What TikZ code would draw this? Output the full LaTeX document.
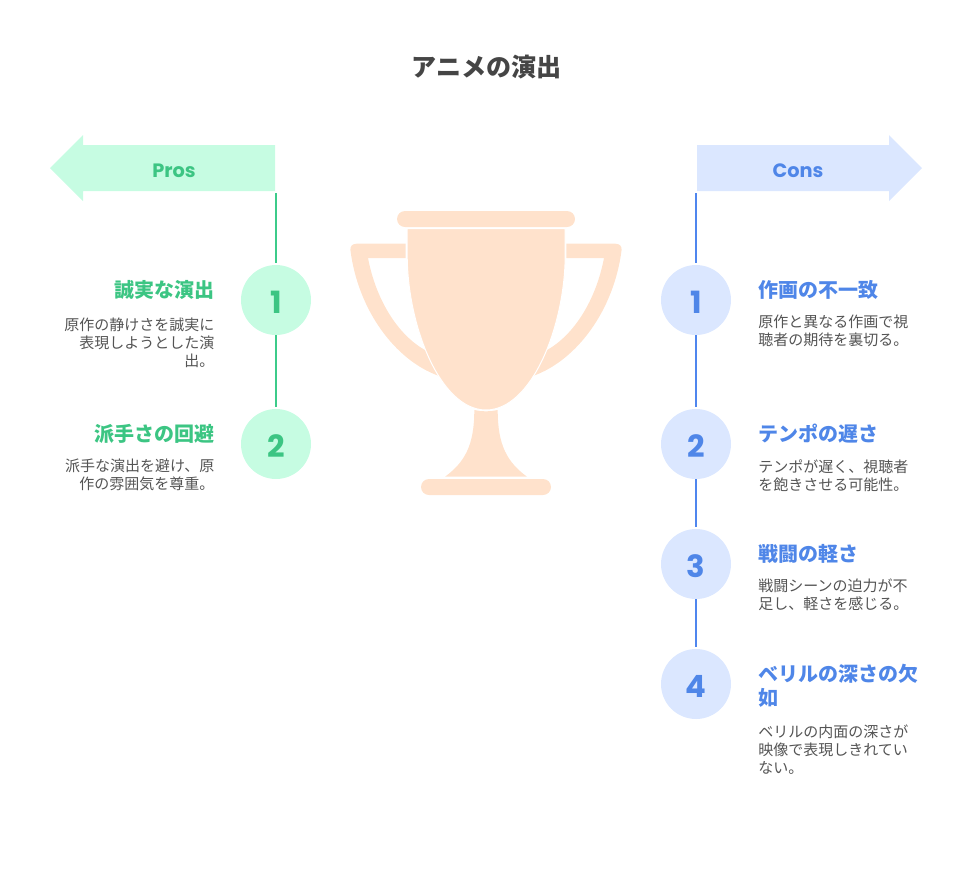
\documentclass[tikz,border=0pt]{standalone}
\usepackage{fontspec}
\setmainfont{Noto Sans CJK JP}
\newfontfamily\handfont{Poppins}
\definecolor{prosfill}{HTML}{C6FCE2}
\definecolor{prosline}{HTML}{3CCB8A}
\definecolor{prostext}{HTML}{3CC583}
\definecolor{consfill}{HTML}{DBE7FF}
\definecolor{consline}{HTML}{4F86EE}
\definecolor{constext}{HTML}{4F86E8}
\definecolor{cupfill}{HTML}{FFE2CC}
\tikzset{
	titlenode/.style={font=\fontsize{18.8}{22}\selectfont\bfseries,text=black!73},
	banner/.style={font=\handfont\fontsize{14.5}{17}\selectfont\bfseries},
	numcircle/.style={circle,minimum size=52.5pt,inner sep=0pt,font=\handfont\fontsize{23}{26}\selectfont\bfseries},
	head/.style={font=\fontsize{15}{18}\selectfont\bfseries,inner sep=0pt},
	desc/.style={font=\fontsize{11.25}{13.5}\selectfont,text=black!67,inner sep=0pt},
	proshead/.style={head,anchor=east,align=right,text=prostext},
	prosdesc/.style={desc,anchor=north east,align=right},
	conshead/.style={head,anchor=west,align=left,text=constext},
	consdesc/.style={desc,anchor=north west,align=left},
	handle/.pic={
		\fill[cupfill] (-80.3,-56.3)--(-129.3,-56.3)
		..controls (-133.5,-56.3) and (-136,-54) ..(-135.6,-50)
		..controls (-128,10) and (-91,60) ..(-47.7,75.7)
		--(-40,60)--(-61,50)
		..controls (-88,35) and (-110,0) ..(-118,-42)
		--(-80.3,-42)--cycle;
	}
}
\begin{document}
\begin{tikzpicture}[x=.75pt,y=-.75pt]
	\useasboundingbox (0,0) rectangle (972,876);
	\node[titlenode] (title) at (486.5,67) {アニメの演出};
	
	% banners
	\fill[prosfill] (50,168)--(83,135)--(83,145)--(275,145)--(275,191)--(83,191)--(83,201)--cycle;
	\fill[consfill] (922,168)--(889,135)--(889,145)--(697,145)--(697,191)--(889,191)--(889,201)--cycle;
	\node[banner,text=prostext] (pros) at (174,170.5) {Pros};
	\node[banner,text=constext] (cons) at (798,170.5) {Cons};
	\coordinate (prostop) at (276,193);
	\coordinate (constop) at (696,193);
	
	% trophy
	\fill[cupfill,rounded corners=6pt] (397,211) rectangle (575,227);
	\path (486,300)pic{handle}
	(486,300)pic[xscale=-1]{handle};
	\filldraw[cupfill,draw=white,line width=.75pt] (407.2,228.5)--(565.2,228.5)--(565.2,255)
	..controls (565.2,325) and (532,410) ..(486,410)
	..controls (440,410) and (407.2,325) ..(407.2,255)--cycle;
	\fill[cupfill] (474.3,410)..controls (482,411.8) and (490,411.8) ..(497.7,410)
	..controls (497.7,445) and (507,462) ..(527,476.7)
	--(445,476.7)
	..controls (465,462) and (474.3,445) ..(474.3,410)--cycle;
	\fill[cupfill,rounded corners=6pt] (421,479) rectangle (551,495);
	
	% circles
	\foreach \n/\y in {1/300,2/444}
	\node[numcircle,fill=prosfill,text=prostext] (p\n) at (276,\y) {\raisebox{-1.5pt}[\height][\depth]{\n}};
	\foreach \n/\y in {1/300,2/444,3/564,4/684}
	\node[numcircle,fill=consfill,text=constext] (c\n) at (696,\y) {\raisebox{-1.5pt}[\height][\depth]{\n}};
	
	% connectors
	\draw[prosline,line width=1.5pt,shorten >=1.5pt] (prostop)--(p1);
	\draw[prosline,line width=1.5pt,shorten >=1.5pt] (p1)--(p2);
	\draw[consline,line width=1.5pt,shorten >=1.5pt] (constop)--(c1);
	\draw[consline,line width=1.5pt,shorten >=1.5pt] (c1)--(c2);
	\draw[consline,line width=1.5pt,shorten >=1.5pt] (c2)--(c3);
	\draw[consline,line width=1.5pt,shorten >=1.5pt] (c3)--(c4);
	
	% pros text
	\node[proshead] (ph1) at (214.7,290) {誠実な演出};
	\node[prosdesc] (pd1) at (214.7,317.5) {原作の静けさを誠実に\\表現しようとした演\\出。};
	\node[proshead] (ph2) at (214.7,434) {派手さの回避};
	\node[prosdesc] (pd2) at (214.7,459) {派手な演出を避け、原\\作の雰囲気を尊重。};
	
	% cons text
	\node[conshead] (ch1) at (758,290) {作画の不一致};
	\node[consdesc] (cd1) at (758,315) {原作と異なる作画で視\\聴者の期待を裏切る。};
	\node[conshead] (ch2) at (758,434) {テンポの遅さ};
	\node[consdesc] (cd2) at (758,459) {テンポが遅く、視聴者\\を飽きさせる可能性。};
	\node[conshead] (ch3) at (758,554) {戦闘の軽さ};
	\node[consdesc] (cd3) at (758,579) {戦闘シーンの迫力が不\\足し、軽さを感じる。};
	\node[conshead] (ch4) at (758,686) {ベリルの深さの欠\\如};
	\node[consdesc] (cd4) at (758,725) {ベリルの内面の深さが\\映像で表現しきれてい\\ない。};
\end{tikzpicture}
\end{document}
